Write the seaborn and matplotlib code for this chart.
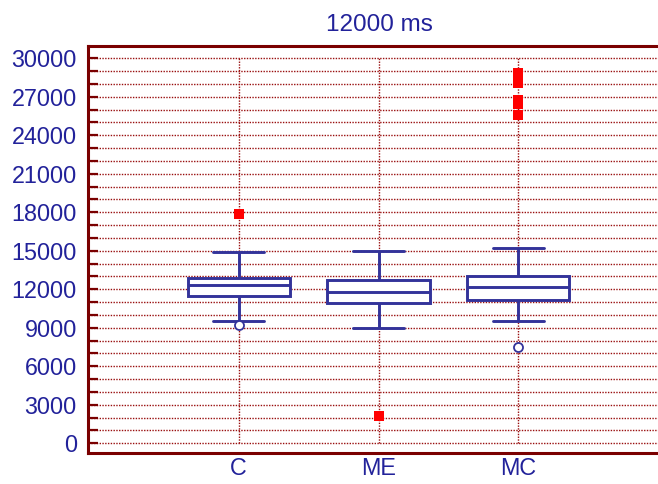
import numpy as np
import pandas as pd
import matplotlib
matplotlib.use("Agg")
import matplotlib.pyplot as plt
from matplotlib.ticker import MultipleLocator
import seaborn as sns

# ---- data ----
categories = ["C", "ME", "MC"]
whisker_low = [9550, 8950, 9550]
q1 = [11500, 10900, 11150]
median = [12300, 11800, 12150]
q3 = [12900, 12700, 13000]
whisker_high = [14900, 15000, 15200]

near_cat = ["C", "MC"]
near_val = [9200, 7480]

far_cat = ["C", "ME", "MC", "MC", "MC", "MC", "MC"]
far_val = [17900, 2150, 28880, 28100, 26750, 26440, 25580]

yticks = list(range(0, 30001, 3000))
title = "12000 ms"

# ---- styling ----
BLUE = "#33339a"
TEXT = "#22229a"
DRED = "#7a0000"
GRID = "#990f0f"

sns.set_style("white")
plt.rcParams["font.family"] = ["Liberation Sans", "DejaVu Sans"]

fig = plt.figure(figsize=(6.58, 4.84), dpi=100)
L, R, T, B = 88, 658, 46, 452.7
ax = fig.add_axes([L / 658, 1 - B / 484, (R - L) / 658, (B - T) / 484])

# box frame built from five-number summaries
rows = []
for c, a, b, m, d, e in zip(categories, whisker_low, q1, median, q3, whisker_high):
    for v in (a, b, m, d, e):
        rows.append({"group": c, "value": v})
df = pd.DataFrame(rows)

sns.boxplot(data=df, x="group", y="value", order=categories, whis=np.inf,
            width=0.73, color="white", linecolor=BLUE, linewidth=2.1,
            ax=ax, zorder=2)

sns.stripplot(x=far_cat, y=far_val, order=categories, jitter=False,
              marker="s", color="#ff0000", size=6.5, linewidth=0,
              ax=ax, zorder=4)
sns.stripplot(x=near_cat, y=near_val, order=categories, jitter=False,
              marker="o", color="white", edgecolor=BLUE, linewidth=1.3,
              size=6.5, ax=ax, zorder=4)

# grid
ax.set_axisbelow(True)
ax.yaxis.set_major_locator(MultipleLocator(3000))
ax.yaxis.set_minor_locator(MultipleLocator(1000))
ax.set_yticks(yticks)
ax.yaxis.grid(True, which="both", color=GRID, linestyle=(0, (1, 1)), linewidth=1.0)
ax.xaxis.grid(False)
ax.vlines(range(len(categories)), 0, max(yticks), colors=GRID,
          linestyles=(0, (1, 1)), linewidth=1.0, zorder=0.5)

ax.set_ylim(-740, 30960)
ax.set_xlim(-1.078, 2.999)

ax.set_xlabel("")
ax.set_ylabel("")

for s in ["left", "bottom", "top"]:
    ax.spines[s].set_visible(True)
    ax.spines[s].set_color(DRED)
    ax.spines[s].set_linewidth(2.2)
ax.spines["right"].set_visible(False)

ax.tick_params(axis="y", which="both", direction="in", length=7, width=1.6,
               color=DRED, labelsize=16.8, labelcolor=TEXT, pad=8, left=True)
ax.tick_params(axis="x", length=0, labelsize=16.8, labelcolor=TEXT, pad=3)

fig.text(379.5 / 658, 1 - 31 / 484, title, ha="center", va="baseline",
         fontsize=17.5, color=TEXT)

fig.savefig("out.png", dpi=100)
